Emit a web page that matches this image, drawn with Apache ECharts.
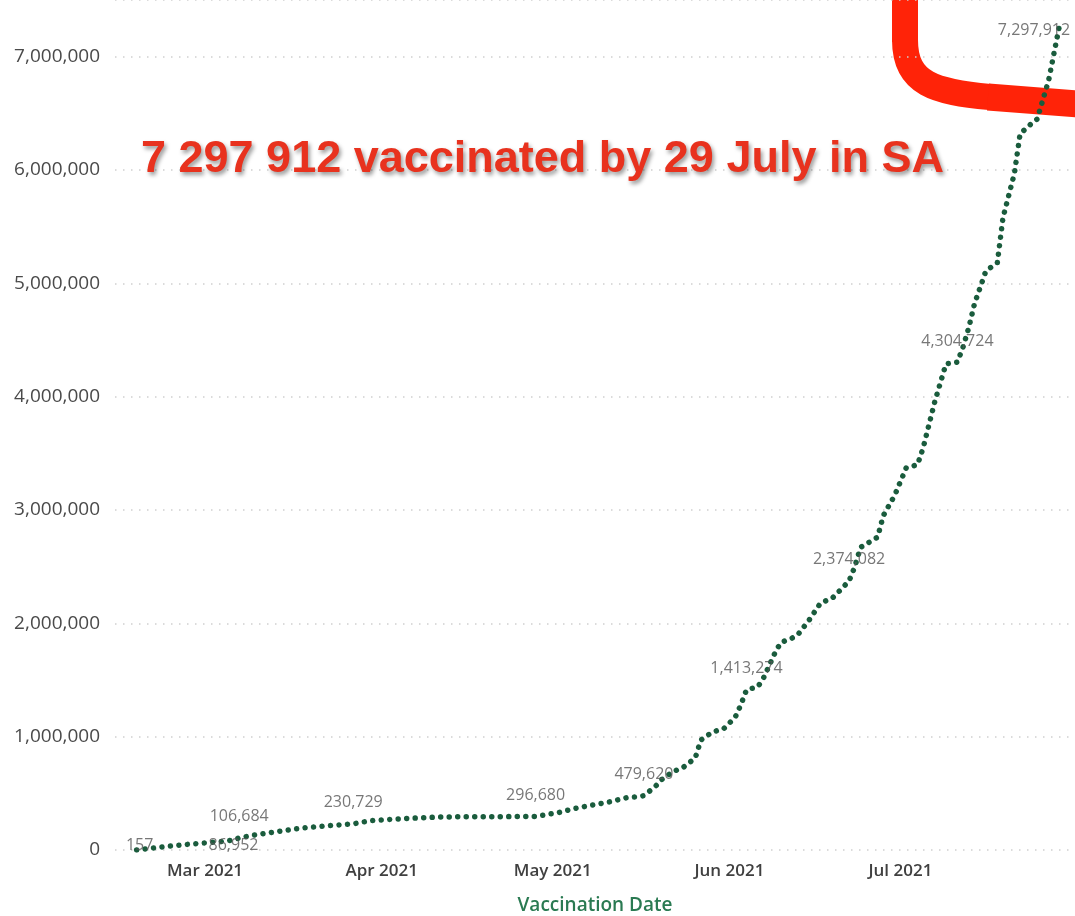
<!DOCTYPE html>
<html>
<head>
<meta charset="utf-8">
<script src="https://cdn.jsdelivr.net/npm/echarts@6/dist/echarts.min.js"></script>
<style>
  html, body { margin: 0; padding: 0; background: #fff; }
  #chart { width: 1075px; height: 916px; }
</style>
</head>
<body>
<div id="chart"></div>
<script>
// cumulative vaccinations
const dates = [
  '2021-02-17', '2021-02-20', '2021-02-23', '2021-02-26', '2021-03-01', '2021-03-04',
  '2021-03-06', '2021-03-07', '2021-03-10', '2021-03-14', '2021-03-18', '2021-03-22',
  '2021-03-27', '2021-03-30', '2021-04-03', '2021-04-08', '2021-04-12', '2021-04-18',
  '2021-04-23', '2021-04-28', '2021-05-02', '2021-05-05', '2021-05-08', '2021-05-11',
  '2021-05-14', '2021-05-16', '2021-05-17', '2021-05-19', '2021-05-20', '2021-05-22',
  '2021-05-24', '2021-05-26', '2021-05-27', '2021-05-29', '2021-05-31', '2021-06-02',
  '2021-06-03', '2021-06-04', '2021-06-06', '2021-06-07', '2021-06-09', '2021-06-10',
  '2021-06-12', '2021-06-13', '2021-06-15', '2021-06-17', '2021-06-19', '2021-06-20',
  '2021-06-22', '2021-06-23', '2021-06-24', '2021-06-26', '2021-06-27', '2021-06-28',
  '2021-06-30', '2021-07-02', '2021-07-04', '2021-07-05', '2021-07-06', '2021-07-07',
  '2021-07-08', '2021-07-09', '2021-07-10', '2021-07-11', '2021-07-12', '2021-07-13',
  '2021-07-14', '2021-07-16', '2021-07-18', '2021-07-19', '2021-07-21', '2021-07-22',
  '2021-07-24', '2021-07-25', '2021-07-27', '2021-07-29'
];
const values = [
  157, 18000, 35000, 50000, 63000, 76000,
  86952, 106684, 135000, 165000, 194000, 212000,
  230729, 258000, 272000, 285000, 292000, 293500,
  294500, 296680, 330000, 368000, 397000, 425000,
  462000, 470000, 479620, 560000, 617000, 688000,
  733000, 811000, 970000, 1040000, 1070000, 1170000,
  1280000, 1413274, 1440000, 1520000, 1740000, 1830000,
  1870000, 1900000, 2030000, 2180000, 2220000, 2270000,
  2374082, 2500000, 2670000, 2730000, 2760000, 2950000,
  3130000, 3370000, 3400000, 3550000, 3750000, 3950000,
  4120000, 4290000, 4295000, 4304724, 4440000, 4610000,
  4820000, 5110000, 5180000, 5580000, 5970000, 6320000,
  6410000, 6450000, 6790000, 7297912
];

// points that carry a data label
const labelDates = ['2021-02-17', '2021-03-06', '2021-03-07', '2021-03-27', '2021-04-28',
  '2021-05-17', '2021-06-04', '2021-06-22', '2021-07-11', '2021-07-29'];
const labelValues = [157, 86952, 106684, 230729, 296680, 479620, 1413274, 2374082, 4304724, 7297912];

const monthTicks = ['2021-03-01', '2021-04-01', '2021-05-01', '2021-06-01', '2021-07-01'];
const monthNames = ['Jan', 'Feb', 'Mar', 'Apr', 'May', 'Jun', 'Jul', 'Aug', 'Sep', 'Oct', 'Nov', 'Dec'];
const yTicks = [0, 1000000, 2000000, 3000000, 4000000, 5000000, 6000000, 7000000];

const DAY = 86400000;
const toTime = (s) => {
  const p = s.split('-').map(Number);
  return new Date(p[0], p[1] - 1, p[2]).getTime();
};
const mar1 = toTime('2021-03-01');

const fmt = (v) => v.toLocaleString('en-US');

const chart = echarts.init(document.getElementById('chart'));

// red hand-drawn marker in the top right corner
const RED = '#ff2308';
const marker = {
  type: 'group',
  z: 1,
  children: [
    {
      type: 'line',
      shape: { x1: 905, y1: -20, x2: 905, y2: 42 },
      style: { stroke: RED, lineWidth: 26 }
    },
    {
      type: 'bezierCurve',
      shape: { x1: 905, y1: 40, cpx1: 905, cpy1: 84, cpx2: 935, cpy2: 92, x2: 990, y2: 97 },
      style: { stroke: RED, lineWidth: 26, fill: null }
    },
    {
      type: 'line',
      shape: { x1: 988, y1: 97, x2: 1090, y2: 105 },
      style: { stroke: RED, lineWidth: 27 }
    }
  ]
};

const option = {
  backgroundColor: '#fff',
  animation: false,
  grid: { left: 115, right: 0, top: 0, bottom: 66, containLabel: false, outerBoundsMode: 'none' },
  xAxis: {
    type: 'value',
    min: mar1 - 15.79 * DAY,
    max: mar1 + 152.63 * DAY,
    name: 'Vaccination Date',
    nameLocation: 'middle',
    nameGap: 46,
    nameTextStyle: { color: '#2a7a52', fontSize: 19, fontWeight: 600, fontFamily: 'Open Sans' },
    axisLine: { show: false },
    axisTick: { show: false },
    splitLine: { show: false },
    axisLabel: {
      customValues: monthTicks.map(toTime),
      color: '#404040',
      fontSize: 17,
      fontWeight: 600,
      fontFamily: 'Open Sans',
      margin: 13,
      formatter: (v) => {
        const d = new Date(v);
        return monthNames[d.getMonth()] + ' ' + d.getFullYear();
      }
    }
  },
  yAxis: {
    type: 'value',
    min: 0,
    max: 7500000,
    interval: 1000000,
    axisLine: { show: false },
    axisTick: { show: false },
    axisLabel: {
      color: '#4a4a4a',
      fontSize: 19,
      fontFamily: 'Open Sans',
      margin: 15,
      showMaxLabel: false,
      formatter: (v) => (yTicks.indexOf(v) >= 0 ? fmt(v) : '')
    },
    splitLine: {
      lineStyle: { color: '#cfcfcf', width: 1.5, type: [1.5, 6.5] }
    }
  },
  graphic: [
    marker,
    {
      type: 'text',
      z: 20,
      left: 141,
      top: 137,
      style: {
        text: '7 297 912 vaccinated by 29 July in SA',
        fontFamily: 'Liberation Sans, Arial',
        fontWeight: 'bold',
        fontSize: 45,
        fill: '#e8321e',
        textShadowColor: 'rgba(0,0,0,0.4)',
        textShadowBlur: 4,
        textShadowOffsetX: 2,
        textShadowOffsetY: 3
      }
    }
  ],
  series: [
    {
      type: 'line',
      z: 5,
      symbol: 'none',
      data: dates.map((d, i) => [toTime(d), values[i]]),
      lineStyle: { color: '#1a5c3d', width: 5.5, cap: 'round', type: [0.01, 8.5] }
    },
    {
      type: 'scatter',
      z: 6,
      symbolSize: 0,
      data: labelDates.map((d, i) => {
        const item = { value: [toTime(d), labelValues[i]] };
        if (i === 0) item.label = { position: 'inside', offset: [3, -5] };
        if (i === 1) item.label = { position: 'inside', offset: [0, 5] };
        if (i === labelDates.length - 1) item.label = { position: 'inside', offset: [-26, 8] };
        return item;
      }),
      label: {
        show: true,
        position: 'top',
        distance: 13,
        color: '#555',
        fontSize: 16,
        fontFamily: 'Open Sans',
        formatter: (p) => fmt(p.value[1])
      }
    }
  ]
};

chart.setOption(option);
window.addEventListener('resize', () => chart.resize());
</script>
</body>
</html>
